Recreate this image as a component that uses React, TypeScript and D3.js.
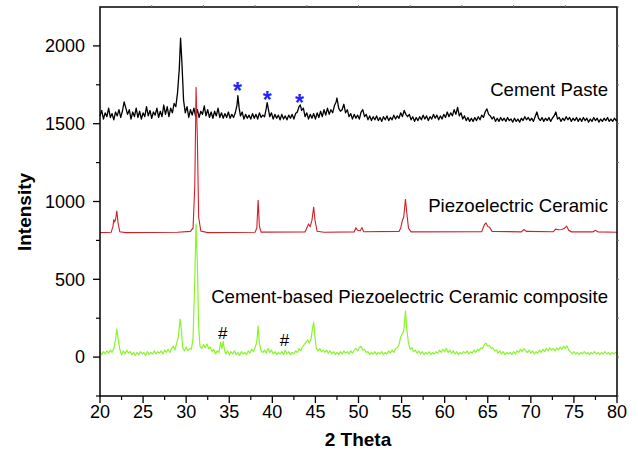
import React from 'react';
import * as d3 from 'd3';

// 2 Theta / intensity pairs
const cementPaste: [number, number][] = [
  [20.0, 1550], [20.2, 1585], [20.4, 1530], [20.6, 1570], [20.8, 1545], [21.0, 1600], [21.2, 1540], [21.4, 1565],
  [21.6, 1525], [21.8, 1575], [22.0, 1550], [22.2, 1590], [22.4, 1540], [22.6, 1580], [22.8, 1640], [23.0, 1600],
  [23.2, 1560], [23.4, 1590], [23.6, 1530], [23.8, 1575], [24.0, 1545], [24.2, 1600], [24.4, 1540], [24.6, 1580],
  [24.8, 1530], [25.0, 1570], [25.2, 1545], [25.4, 1610], [25.6, 1550], [25.8, 1585], [26.0, 1535], [26.2, 1575],
  [26.4, 1555], [26.6, 1600], [26.8, 1540], [27.0, 1580], [27.2, 1545], [27.4, 1620], [27.6, 1560], [27.8, 1610],
  [28.0, 1545], [28.2, 1600], [28.4, 1570], [28.6, 1630], [28.8, 1610], [29.0, 1700], [29.2, 1850], [29.35, 2050],
  [29.5, 1900], [29.7, 1650], [29.9, 1570], [30.1, 1610], [30.3, 1540], [30.5, 1590], [30.7, 1555], [30.9, 1600],
  [31.1, 1545], [31.3, 1590], [31.5, 1540], [31.7, 1580], [31.9, 1560], [32.1, 1615], [32.3, 1550], [32.5, 1590],
  [32.7, 1540], [32.9, 1575], [33.1, 1535], [33.3, 1580], [33.5, 1550], [33.7, 1600], [33.9, 1540], [34.1, 1570],
  [34.3, 1535], [34.5, 1565], [34.7, 1540], [34.9, 1575], [35.1, 1535], [35.3, 1560], [35.5, 1540], [35.7, 1570],
  [35.9, 1620], [36.0, 1680], [36.15, 1600], [36.3, 1550], [36.5, 1575], [36.7, 1530], [36.9, 1560], [37.1, 1535],
  [37.3, 1555], [37.5, 1530], [37.7, 1565], [37.9, 1535], [38.1, 1560], [38.3, 1530], [38.5, 1570], [38.7, 1540],
  [38.9, 1555], [39.1, 1545], [39.3, 1600], [39.4, 1635], [39.55, 1590], [39.7, 1545], [39.9, 1570], [40.1, 1530],
  [40.3, 1560], [40.5, 1535], [40.7, 1555], [40.9, 1525], [41.1, 1560], [41.3, 1530], [41.5, 1550], [41.7, 1525],
  [41.9, 1555], [42.1, 1535], [42.3, 1560], [42.5, 1530], [42.7, 1565], [42.9, 1575], [43.1, 1610], [43.25, 1620],
  [43.4, 1585], [43.6, 1600], [43.8, 1545], [44.0, 1570], [44.2, 1530], [44.4, 1560], [44.6, 1535], [44.8, 1565],
  [45.0, 1530], [45.2, 1570], [45.4, 1540], [45.6, 1580], [45.8, 1545], [46.0, 1590], [46.2, 1555], [46.4, 1600],
  [46.6, 1560], [46.8, 1590], [47.0, 1570], [47.2, 1615], [47.4, 1640], [47.5, 1665], [47.7, 1600], [47.9, 1580],
  [48.1, 1590], [48.3, 1625], [48.5, 1570], [48.7, 1590], [48.9, 1545], [49.1, 1565], [49.3, 1530], [49.5, 1560],
  [49.7, 1535], [49.9, 1555], [50.1, 1530], [50.3, 1575], [50.5, 1590], [50.7, 1545], [50.9, 1560], [51.1, 1525],
  [51.3, 1550], [51.5, 1520], [51.7, 1545], [51.9, 1525], [52.1, 1550], [52.3, 1520], [52.5, 1540], [52.7, 1515],
  [52.9, 1545], [53.1, 1525], [53.3, 1550], [53.5, 1520], [53.7, 1540], [53.9, 1525], [54.1, 1555], [54.3, 1530],
  [54.5, 1550], [54.7, 1535], [54.9, 1570], [55.1, 1545], [55.3, 1585], [55.5, 1560], [55.7, 1545], [55.9, 1560],
  [56.1, 1525], [56.3, 1545], [56.5, 1515], [56.7, 1540], [56.9, 1520], [57.1, 1545], [57.3, 1525], [57.5, 1555],
  [57.7, 1530], [57.9, 1550], [58.1, 1520], [58.3, 1545], [58.5, 1530], [58.7, 1560], [58.9, 1535], [59.1, 1555],
  [59.3, 1525], [59.5, 1550], [59.7, 1530], [59.9, 1560], [60.1, 1540], [60.3, 1575], [60.5, 1545], [60.7, 1570],
  [60.9, 1550], [61.1, 1590], [61.3, 1560], [61.5, 1605], [61.7, 1550], [61.9, 1570], [62.1, 1530], [62.3, 1550],
  [62.5, 1520], [62.7, 1540], [62.9, 1515], [63.1, 1535], [63.3, 1515], [63.5, 1540], [63.7, 1520], [63.9, 1545],
  [64.1, 1525], [64.3, 1555], [64.5, 1540], [64.7, 1575], [64.9, 1595], [65.1, 1560], [65.3, 1550], [65.5, 1530],
  [65.7, 1545], [65.9, 1515], [66.1, 1535], [66.3, 1515], [66.5, 1540], [66.7, 1520], [66.9, 1535], [67.1, 1515],
  [67.3, 1540], [67.5, 1520], [67.7, 1530], [67.9, 1510], [68.1, 1535], [68.3, 1515], [68.5, 1530], [68.7, 1510],
  [68.9, 1535], [69.1, 1520], [69.3, 1545], [69.5, 1525], [69.7, 1540], [69.9, 1520], [70.1, 1535], [70.3, 1515],
  [70.5, 1545], [70.7, 1575], [70.9, 1535], [71.1, 1520], [71.3, 1540], [71.5, 1515], [71.7, 1535], [71.9, 1520],
  [72.1, 1540], [72.3, 1515], [72.5, 1535], [72.7, 1550], [72.9, 1575], [73.1, 1530], [73.3, 1540], [73.5, 1515],
  [73.7, 1535], [73.9, 1520], [74.1, 1545], [74.3, 1525], [74.5, 1540], [74.7, 1515], [74.9, 1535], [75.1, 1520],
  [75.3, 1540], [75.5, 1515], [75.7, 1535], [75.9, 1515], [76.1, 1540], [76.3, 1520], [76.5, 1535], [76.7, 1510],
  [76.9, 1530], [77.1, 1515], [77.3, 1540], [77.5, 1520], [77.7, 1535], [77.9, 1510], [78.1, 1530], [78.3, 1515],
  [78.5, 1535], [78.7, 1520], [78.9, 1540], [79.1, 1515], [79.3, 1530], [79.5, 1515], [79.7, 1535], [79.9, 1520],
  [80.0, 1525],
];

const piezoCeramic: [number, number][] = [
  [20, 800], [21.3, 802], [21.5, 840], [21.6, 885], [21.7, 870], [21.8, 880], [21.95, 940], [22.1, 860],
  [22.3, 805], [23, 800], [29, 802], [30.5, 808], [30.8, 830], [31.0, 1100], [31.15, 1735], [31.3, 1400],
  [31.45, 900], [31.7, 810], [32.5, 800], [38.0, 802], [38.2, 830], [38.35, 1010], [38.5, 840], [38.7, 803],
  [43.8, 805], [44.0, 830], [44.2, 855], [44.4, 840], [44.6, 880], [44.8, 965], [44.95, 880], [45.2, 808],
  [46, 802], [49.5, 805], [49.7, 830], [49.9, 815], [50.2, 812], [50.4, 832], [50.6, 806], [54.7, 808],
  [54.9, 830], [55.1, 880], [55.25, 900], [55.45, 1015], [55.6, 930], [55.8, 830], [56.1, 805], [64.3, 806],
  [64.6, 850], [64.8, 862], [65.0, 840], [65.2, 835], [65.5, 808], [68.9, 805], [69.2, 820], [69.5, 808],
  [72.6, 806], [72.9, 822], [73.2, 818], [73.6, 820], [73.9, 828], [74.15, 842], [74.4, 815], [74.7, 805],
  [77.2, 805], [77.5, 815], [77.8, 805], [80, 802],
];

const composite: [number, number][] = [
  [20.0, 30], [20.2, 15], [20.4, 35], [20.6, 20], [20.8, 40], [21.0, 25], [21.2, 45], [21.4, 30],
  [21.6, 55], [21.8, 110], [21.95, 180], [22.1, 120], [22.3, 50], [22.5, 15], [22.7, 40], [22.9, 20],
  [23.1, 45], [23.3, 25], [23.5, 35], [23.7, 15], [23.9, 30], [24.1, 10], [24.3, 30], [24.5, 15],
  [24.7, 35], [24.9, 20], [25.1, 30], [25.3, 10], [25.5, 35], [25.7, 15], [25.9, 30], [26.1, 20],
  [26.3, 40], [26.5, 20], [26.7, 35], [26.9, 25], [27.1, 40], [27.3, 20], [27.5, 45], [27.7, 30],
  [27.9, 50], [28.1, 30], [28.3, 55], [28.5, 70], [28.7, 45], [28.9, 90], [29.1, 130], [29.3, 245],
  [29.45, 170], [29.6, 60], [29.8, 40], [30.0, 65], [30.2, 40], [30.4, 55], [30.6, 50], [30.8, 120],
  [31.0, 500], [31.15, 855], [31.3, 600], [31.45, 200], [31.6, 70], [31.8, 55], [32.0, 80], [32.2, 60],
  [32.4, 85], [32.6, 55], [32.8, 65], [33.0, 35], [33.2, 50], [33.4, 20], [33.6, 40], [33.8, 30],
  [34.0, 95], [34.15, 55], [34.3, 100], [34.45, 45], [34.6, 20], [34.8, 40], [35.0, 15], [35.2, 35],
  [35.4, 20], [35.6, 40], [35.8, 15], [36.0, 30], [36.2, 10], [36.4, 35], [36.6, 20], [36.8, 30],
  [37.0, 15], [37.2, 40], [37.4, 25], [37.6, 50], [37.8, 35], [38.0, 60], [38.2, 100], [38.35, 200],
  [38.5, 90], [38.7, 40], [38.9, 30], [39.1, 45], [39.3, 25], [39.5, 55], [39.7, 30], [39.9, 45],
  [40.1, 20], [40.3, 35], [40.5, 15], [40.7, 30], [40.9, 20], [41.1, 35], [41.3, 15], [41.5, 45],
  [41.7, 20], [41.9, 35], [42.1, 15], [42.3, 30], [42.5, 20], [42.7, 40], [42.9, 30], [43.1, 55],
  [43.3, 40], [43.5, 65], [43.7, 80], [43.9, 95], [44.1, 110], [44.3, 90], [44.5, 120], [44.65, 180],
  [44.8, 225], [44.95, 130], [45.1, 60], [45.3, 40], [45.5, 55], [45.7, 35], [45.9, 45], [46.1, 30],
  [46.3, 45], [46.5, 25], [46.7, 40], [46.9, 20], [47.1, 35], [47.3, 15], [47.5, 30], [47.7, 15],
  [47.9, 35], [48.1, 20], [48.3, 40], [48.5, 25], [48.7, 35], [48.9, 20], [49.1, 40], [49.3, 25],
  [49.5, 45], [49.7, 55], [49.9, 40], [50.1, 60], [50.3, 70], [50.5, 45], [50.7, 50], [50.9, 30],
  [51.1, 35], [51.3, 15], [51.5, 30], [51.7, 20], [51.9, 35], [52.1, 15], [52.3, 30], [52.5, 20],
  [52.7, 35], [52.9, 15], [53.1, 30], [53.3, 20], [53.5, 40], [53.7, 25], [53.9, 45], [54.1, 30],
  [54.3, 55], [54.5, 60], [54.7, 80], [54.9, 130], [55.1, 150], [55.25, 170], [55.45, 296], [55.6, 180],
  [55.8, 90], [56.0, 50], [56.2, 60], [56.4, 35], [56.6, 45], [56.8, 25], [57.0, 40], [57.2, 20],
  [57.4, 35], [57.6, 15], [57.8, 30], [58.0, 20], [58.2, 35], [58.4, 15], [58.6, 30], [58.8, 20],
  [59.0, 35], [59.2, 25], [59.4, 45], [59.6, 30], [59.8, 50], [60.0, 35], [60.2, 55], [60.4, 30],
  [60.6, 45], [60.8, 25], [61.0, 40], [61.2, 20], [61.4, 35], [61.6, 15], [61.8, 30], [62.0, 20],
  [62.2, 35], [62.4, 25], [62.6, 40], [62.8, 20], [63.0, 35], [63.2, 25], [63.4, 45], [63.6, 30],
  [63.8, 50], [64.0, 40], [64.2, 60], [64.4, 55], [64.6, 80], [64.8, 90], [65.0, 70], [65.2, 75],
  [65.4, 55], [65.6, 60], [65.8, 40], [66.0, 45], [66.2, 25], [66.4, 40], [66.6, 20], [66.8, 35],
  [67.0, 15], [67.2, 30], [67.4, 20], [67.6, 30], [67.8, 15], [68.0, 35], [68.2, 20], [68.4, 40],
  [68.6, 30], [68.8, 50], [69.0, 35], [69.2, 55], [69.4, 40], [69.6, 30], [69.8, 45], [70.0, 25],
  [70.2, 40], [70.4, 20], [70.6, 35], [70.8, 25], [71.0, 45], [71.2, 30], [71.4, 50], [71.6, 35],
  [71.8, 55], [72.0, 40], [72.2, 60], [72.4, 45], [72.6, 55], [72.8, 40], [73.0, 60], [73.2, 45],
  [73.4, 65], [73.6, 50], [73.8, 70], [74.0, 55], [74.2, 72], [74.4, 45], [74.6, 35], [74.8, 20],
  [75.0, 35], [75.2, 20], [75.4, 30], [75.6, 15], [75.8, 30], [76.0, 20], [76.2, 35], [76.4, 20],
  [76.6, 30], [76.8, 15], [77.0, 30], [77.2, 20], [77.4, 35], [77.6, 20], [77.8, 30], [78.0, 15],
  [78.2, 30], [78.4, 20], [78.6, 35], [78.8, 20], [79.0, 30], [79.2, 15], [79.4, 30], [79.6, 20],
  [79.8, 30], [80.0, 25],
];

// annotation markers
const starMarks: [number, number][] = [[35.95, 1742], [39.4, 1684], [43.15, 1662]];
const hashMarks: [number, number][] = [[34.25, 155], [41.4, 110]];

const xTicks = [20, 25, 30, 35, 40, 45, 50, 55, 60, 65, 70, 75, 80];
const yTicks = [0, 500, 1000, 1500, 2000];
const topTicks = [26, 32, 38, 44, 50, 56, 62, 68, 74];

const seriesLabels = [
  { text: 'Cement Paste', y: 1675 },
  { text: 'Piezoelectric Ceramic', y: 930 },
  { text: 'Cement-based Piezoelectric Ceramic composite', y: 345 },
];

const W = 638, H = 458;
const left = 100, right = 617, top = 7, bottom = 396;
const font = '"Liberation Sans", Arial, sans-serif';

export default function App() {
  const x = d3.scaleLinear().domain([20, 80]).range([left, right]);
  const y = d3.scaleLinear().domain([-250, 2250]).range([bottom, top]);
  const line = d3.line<[number, number]>().x(d => x(d[0])).y(d => y(d[1]));

  const xMinor = d3.range(22.5, 80, 5);
  const yMinor = d3.range(-250, 2250, 500);
  const rightTicks = d3.range(-250, 2251, 250);

  return (
    <div style={{ position: 'absolute', left: 0, top: 0 }}>
      <svg width={W} height={H} style={{ display: 'block' }} fontFamily={font}>
        <rect width={W} height={H} fill="#fff" />

        <path d={line(cementPaste) || ''} fill="none" stroke="#000" strokeWidth={1.3} strokeLinejoin="round" />
        <path d={line(piezoCeramic) || ''} fill="none" stroke="#d0202a" strokeWidth={1.1} />
        <path d={line(composite) || ''} fill="none" stroke="#88f52a" strokeWidth={1.2} strokeLinejoin="round" />

        {starMarks.map((d, i) => (
          <text key={'s' + i} x={x(d[0])} y={y(d[1]) + 13} textAnchor="middle" fontSize={23}
            fontWeight="bold" fill="#2222ff">*</text>
        ))}
        {hashMarks.map((d, i) => (
          <text key={'h' + i} x={x(d[0])} y={y(d[1]) + 6} textAnchor="middle" fontSize={17}
            fill="#000">#</text>
        ))}

        {seriesLabels.map((d, i) => (
          <text key={'l' + i} x={608} y={y(d.y)} textAnchor="end" fontSize={18.6} fill="#000">{d.text}</text>
        ))}

        {/* frame */}
        <rect x={left} y={top} width={right - left} height={bottom - top} fill="none" stroke="#000" strokeWidth={1.5} />

        {/* bottom axis */}
        {xTicks.map(t => (
          <g key={'xt' + t}>
            <line x1={x(t)} x2={x(t)} y1={bottom} y2={bottom + 7} stroke="#000" strokeWidth={1.3} />
            <text x={x(t)} y={418} textAnchor="middle" fontSize={18} fill="#000">{t}</text>
          </g>
        ))}
        {xMinor.map(t => (
          <line key={'xm' + t} x1={x(t)} x2={x(t)} y1={bottom} y2={bottom + 4} stroke="#000" strokeWidth={1.2} />
        ))}

        {/* left axis */}
        {yTicks.map(t => (
          <g key={'yt' + t}>
            <line x1={left - 7} x2={left} y1={y(t)} y2={y(t)} stroke="#000" strokeWidth={1.3} />
            <text x={85} y={y(t)} dy="0.35em" textAnchor="end" fontSize={18} fill="#000">{t}</text>
          </g>
        ))}
        {yMinor.map(t => (
          <line key={'ym' + t} x1={left - 4} x2={left} y1={y(t)} y2={y(t)} stroke="#000" strokeWidth={1.2} />
        ))}

        {/* faint ticks on top and right */}
        {topTicks.map(t => (
          <line key={'tt' + t} x1={x(t)} x2={x(t)} y1={top} y2={top - 2} stroke="#777" strokeWidth={1} />
        ))}
        {rightTicks.map(t => (
          <line key={'rt' + t} x1={right} x2={right + 2} y1={y(t)} y2={y(t)} stroke="#777" strokeWidth={1} />
        ))}

        <text x={358} y={446} textAnchor="middle" fontSize={19} fontWeight="bold" fill="#000">2 Theta</text>
        <text transform={`translate(31,212) rotate(-90)`} textAnchor="middle" fontSize={19} fontWeight="bold"
          fill="#000">Intensity</text>
      </svg>
    </div>
  );
}
